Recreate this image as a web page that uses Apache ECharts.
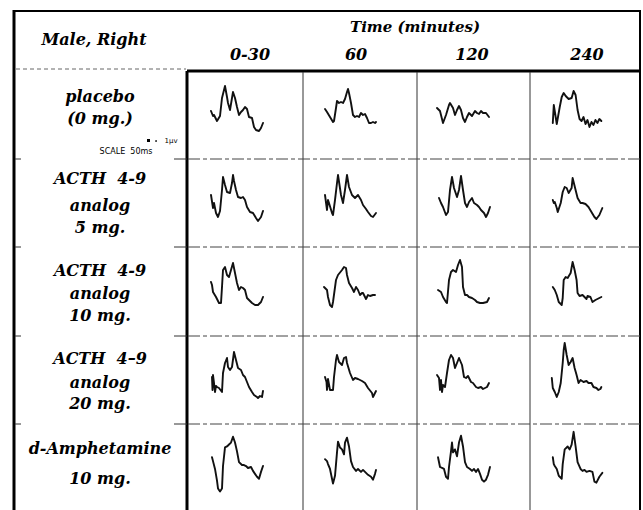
<!DOCTYPE html>
<html>
<head>
<meta charset="utf-8">
<script src="https://cdn.jsdelivr.net/npm/echarts@6/dist/echarts.min.js"></script>
<style>
html,body{margin:0;padding:0;background:#fff;}
#chart{width:643px;height:510px;}
</style>
</head>
<body>
<div id="chart"></div>
<script>
// ---- DATA ----
const headerTitle = 'Male, Right';
const timeTitle = 'Time (minutes)';
const colLabels = ['0-30', '60', '120', '240'];
const rowLabels = [
  ['placebo', '(0 mg.)'],
  ['ACTH  4-9', 'analog', '5 mg.'],
  ['ACTH  4-9', 'analog', '10 mg.'],
  ['ACTH  4\u20139', 'analog', '20 mg.'],
  ['d-Amphetamine', '10 mg.']
];
// each trace: [latency, amplitude] pairs (per time column)
const placebo = [
  [[24,4],[26,-1],[27,0],[30,-6],[33,-1],[35,17],[38,29],[40,18],[41,12],[43,5],[46,23],[48,17],[50,8],[52,0],[54,3],[56,5],[58,8],[60,6],[62,-2],[65,-3],[67,-12],[69,-15],[72,-16],[74,-13],[76,-8]],
  [[22,6],[24,3],[27,-2],[30,-7],[31,-6],[33,7],[34,14],[36,12],[38,13],[40,12],[42,16],[44,23],[45,26],[46,22],[48,12],[50,0],[52,-2],[54,-1],[56,-2],[58,2],[60,0],[62,1],[64,-3],[66,-8],[68,-8],[70,-7],[72,-8],[73,-7]],
  [[20,7],[23,4],[26,-8],[29,0],[32,10],[33,12],[36,7],[38,0],[40,5],[42,9],[44,5],[46,-3],[48,-7],[50,-2],[52,2],[55,-1],[58,4],[60,2],[62,1],[64,4],[66,2],[69,2],[72,-2]],
  [[23,-8],[24,10],[27,-9],[30,8],[32,18],[34,22],[36,19],[39,16],[42,17],[44,24],[46,20],[48,5],[50,-4],[52,-6],[54,-2],[56,-9],[58,-5],[60,-12],[62,-7],[64,-10],[66,-5],[68,-8],[70,-4],[72,-6]]
];
const acth5 = [
  [[24,8],[26,-5],[27,0],[29,-10],[31,-14],[33,-8],[35,13],[36,26],[38,18],[40,11],[43,10],[45,20],[46,28],[47,22],[49,13],[51,6],[54,5],[56,6],[58,3],[60,-4],[63,-9],[66,-10],[69,-15],[71,-18],[74,-14],[76,-8]],
  [[22,8],[24,-7],[25,3],[26,0],[29,-10],[30,-12],[32,3],[34,20],[35,28],[38,8],[40,0],[42,13],[44,28],[46,16],[49,8],[52,5],[55,8],[58,3],[60,-2],[63,-6],[65,-9],[68,-13],[70,-14],[73,-10]],
  [[22,5],[24,0],[26,-4],[29,-12],[31,-9],[33,13],[35,26],[37,15],[40,6],[42,13],[44,27],[46,13],[48,0],[50,-4],[52,1],[55,5],[57,0],[60,-2],[62,-4],[64,-7],[67,-10],[69,-14],[71,-10],[73,-4]],
  [[23,3],[24,0],[25,1],[27,-5],[28,-9],[31,0],[33,11],[35,16],[37,15],[39,10],[42,15],[43,25],[46,13],[48,5],[51,0],[53,0],[56,-1],[59,-4],[62,-9],[65,-14],[67,-16],[70,-12],[73,-5]]
];
const acth10 = [
  [[24,9],[25,6],[26,-1],[29,-6],[32,-12],[34,-12],[35,4],[36,21],[38,24],[40,16],[42,14],[44,21],[46,28],[48,18],[50,8],[52,1],[54,4],[56,3],[58,1],[60,-7],[62,-9],[65,-12],[68,-14],[71,-14],[74,-11],[76,-6]],
  [[21,4],[24,1],[25,-6],[27,-14],[29,-16],[30,-11],[33,11],[35,16],[39,21],[41,24],[43,23],[44,16],[46,8],[49,3],[51,-1],[53,4],[55,1],[57,-4],[59,-2],[60,-2],[63,-8],[65,-4],[67,-5],[70,-4],[72,-4]],
  [[21,1],[24,-1],[26,-6],[29,-11],[30,-12],[32,11],[34,19],[36,21],[39,19],[41,26],[43,31],[45,24],[46,4],[48,-4],[50,-4],[52,-6],[55,-7],[58,-9],[60,-11],[63,-12],[66,-12],[70,-11],[72,-7]],
  [[23,4],[25,1],[27,-4],[29,-11],[32,-14],[33,-7],[34,11],[36,14],[38,13],[41,18],[43,29],[45,21],[47,11],[48,-2],[50,-5],[53,-4],[55,-6],[57,-8],[58,-5],[61,-6],[63,-11],[66,-9],[68,-8],[72,-6]]
];
const acth20 = [
  [[25,3],[25.5,-10],[26,5],[27,-3],[28,-12],[29,-6],[30,-7],[32,-8],[35,-12],[36,7],[38,17],[40,22],[41,13],[43,10],[45,13],[47,28],[49,20],[51,12],[54,10],[56,5],[58,3],[60,-2],[62,-7],[65,-12],[67,-15],[70,-17],[71,-18],[73,-16],[75,-17],[76,-11]],
  [[22,3],[23.5,-2],[24,-10],[25,1],[27,-10],[30,-10],[31,3],[33,20],[34,25],[36,18],[39,15],[41,22],[43,23],[44,17],[47,7],[50,0],[52,2],[55,1],[59,-1],[62,-3],[65,-8],[69,-13],[70,-17],[73,-11]],
  [[20,5],[22,2],[23,-10],[24,0],[25,-12],[26,-5],[28,-7],[30,7],[32,20],[34,25],[36,22],[38,12],[40,17],[42,22],[45,15],[47,3],[49,2],[51,4],[54,-2],[56,-3],[59,-7],[61,-8],[64,-7],[66,-9],[68,-8],[70,-7],[72,-3]],
  [[22,2],[23,-8],[25,-12],[27,-17],[29,-12],[31,-3],[33,17],[34,30],[35,37],[37,25],[39,15],[41,18],[43,22],[45,12],[47,5],[49,-3],[51,0],[54,-2],[57,-1],[59,-3],[62,-3],[64,-7],[67,-8],[69,-10],[71,-9],[72,-7]]
];
const amphet10 = [
  [[25,10],[26,6],[28,-2],[30,-14],[31,-22],[33,-25],[35,-22],[36,1],[38,20],[40,21],[42,23],[44,25],[46,31],[48,25],[50,16],[52,5],[55,2],[57,2],[59,1],[61,-1],[64,0],[66,-4],[68,-7],[70,-10],[72,-12],[74,-5],[76,1]],
  [[22,8],[24,6],[25,3],[27,-2],[29,-12],[30,-17],[32,-9],[34,15],[35,26],[37,20],[39,18],[41,13],[42,25],[44,30],[46,21],[48,6],[50,0],[53,-4],[55,-2],[58,-5],[60,-3],[63,-6],[65,-8],[68,-10],[70,-13],[72,-7],[73,-3]],
  [[21,10],[23,0],[25,-1],[27,-2],[29,-10],[31,-12],[32,0],[34,16],[35,25],[36,15],[38,18],[40,11],[42,25],[44,32],[46,21],[48,5],[50,0],[53,-2],[55,-4],[57,-2],[59,-5],[61,-2],[63,-7],[65,-13],[67,-15],[69,-13],[71,-8],[73,0]],
  [[23,10],[24,3],[25,1],[27,-2],[29,-9],[32,-12],[33,3],[35,18],[37,20],[38,21],[40,18],[42,23],[44,36],[46,21],[48,5],[51,-2],[53,-4],[55,-3],[57,-5],[60,-4],[63,-5],[65,-15],[67,-16],[70,-10],[73,-6]]
];
const traces = [placebo, acth5, acth10, acth20, amphet10];

// ---- LAYOUT ----
const colX = [187, 303, 417, 530];
const rowY = [71, 159, 247, 336, 424];
const cellW = 114, cellH = 88;

const grids = [], xAxes = [], yAxes = [], series = [];
traces.forEach((row, r) => {
  row.forEach((tr, c) => {
    const i = grids.length;
    grids.push({left: colX[c], top: rowY[r], width: cellW, height: cellH, containLabel: false});
    xAxes.push({type: 'value', gridIndex: i, min: 0, max: cellW, show: false});
    yAxes.push({type: 'value', gridIndex: i, min: -cellH / 2, max: cellH / 2, show: false});
    series.push({
      type: 'line', xAxisIndex: i, yAxisIndex: i, data: tr,
      showSymbol: false, symbol: 'none', silent: true,
      lineStyle: {color: '#111', width: 1.9, join: 'round', cap: 'round'}
    });
  });
});

const fontFam = '"DejaVu Serif", serif';
const g = [];
function line(x1, y1, x2, y2, w, color, dash) {
  g.push({type: 'line', silent: true, shape: {x1, y1, x2, y2},
    style: {stroke: color || '#000', lineWidth: w, lineDash: dash || null}});
}
function text(str, x, y, size, opts) {
  opts = opts || {};
  g.push({type: 'text', silent: true, x, y, style: {
    text: str, fill: '#000', textAlign: opts.align || 'center', textVerticalAlign: 'middle',
    font: (opts.plain ? '' : 'italic bold ') + size + 'px ' + (opts.family || fontFam)
  }});
}
// borders
line(14, 11, 641, 11, 2);
line(14, 10, 14, 510, 3);
line(640, 10, 640, 510, 2);
line(187, 71, 641, 71, 3);
line(16, 69, 186, 69, 1, '#666', [4, 3]);
line(187, 71, 187, 510, 3);
[303, 417, 530].forEach(x => line(x, 72, x, 510, 1, '#333'));
rowY.slice(1).forEach(y => {
  line(188, y, 640, y, 1, '#444', [12, 3, 4, 3]);
  line(15, y, 21, y, 1, '#333');
  line(174, y, 187, y, 1, '#333');
});
// header text
text(headerTitle, 94, 39, 16);
text(timeTitle, 415, 27, 15);
const colLabelX = [250, 356, 472, 587];
colLabels.forEach((t, i) => text(t, colLabelX[i], 54, 16));
// row labels
const rowLabelY = [[96, 118], [178, 205, 227], [270, 293, 315], [358, 382, 403], [448, 478]];
rowLabels.forEach((lines, r) => lines.forEach((t, k) => text(t, 100, rowLabelY[r][k], 16)));
// scale note
text('SCALE  50ms', 126, 151, 8, {plain: true, family: '"DejaVu Sans", sans-serif'});
text('1\u03bcv', 171, 141, 7, {plain: true, family: '"DejaVu Sans", sans-serif'});
g.push({type: 'rect', silent: true, shape: {x: 147, y: 139, width: 3, height: 3}, style: {fill: '#000'}});
g.push({type: 'circle', silent: true, shape: {cx: 156, cy: 141, r: 0.8}, style: {fill: '#000'}});

const chart = echarts.init(document.getElementById('chart'), null, {renderer: 'svg'});
chart.setOption({
  animation: false,
  backgroundColor: '#fff',
  grid: grids, xAxis: xAxes, yAxis: yAxes, series: series,
  graphic: g
});
</script>
</body>
</html>
